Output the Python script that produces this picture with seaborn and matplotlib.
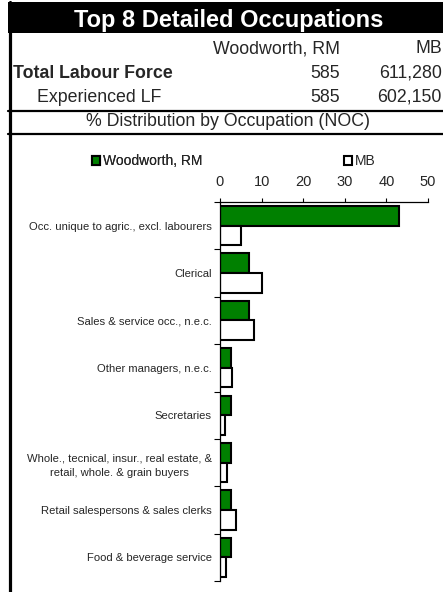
import matplotlib
matplotlib.use("Agg")
import matplotlib.pyplot as plt
import seaborn as sns
import pandas as pd
from matplotlib.patches import Rectangle
from matplotlib.lines import Line2D
from matplotlib.ticker import FixedLocator

# ---- data ----
occupations = [
    "Occ. unique to agric., excl. labourers",
    "Clerical",
    "Sales & service occ., n.e.c.",
    "Other managers, n.e.c.",
    "Secretaries",
    "Whole., tecnical, insur., real estate, &\nretail, whole. & grain buyers",
    "Retail salespersons & sales clerks",
    "Food & beverage service",
]
woodworth = [43.0, 7.0, 7.0, 2.6, 2.7, 2.7, 2.6, 2.7]
mb = [5.0, 10.2, 8.2, 2.8, 1.3, 1.6, 3.8, 1.5]
series_names = ["Woodworth, RM", "MB"]
header_cols = ["Woodworth, RM", "MB"]
row_labels = ["Total Labour Force", "Experienced LF"]
row_wood = ["585", "585"]
row_mb = ["611,280", "602,150"]
title = "Top 8 Detailed Occupations"
subtitle = "% Distribution by Occupation (NOC)"
x_ticks = [0, 10, 20, 30, 40, 50]

df = pd.DataFrame({
    "Occupation": occupations * 2,
    "Series": [series_names[0]] * len(occupations) + [series_names[1]] * len(occupations),
    "Value": woodworth + mb,
})

sns.set_theme(style="white")
plt.rcParams["font.family"] = ["Liberation Sans", "DejaVu Sans"]

W, H = 443, 592
fig = plt.figure(figsize=(W / 100, H / 100), dpi=100)

def fx(px):
    return px / W

def fy(py):
    return 1 - py / H

# ---- header ----
fig.add_artist(Rectangle((fx(8), fy(33)), fx(W) - fx(8) + 0.01, (33 - 2) / H,
                         transform=fig.transFigure, facecolor="black", edgecolor="none"))
fig.text(fx(229), fy(26.5), title, color="white", fontsize=17, fontweight="bold",
         ha="center", va="baseline")
HF = 12.8
fig.text(fx(340), fy(53.3), header_cols[0], fontsize=HF, ha="right", va="baseline")
fig.text(fx(442), fy(53.3), header_cols[1], fontsize=HF, ha="right", va="baseline")
base = [78, 101.7]
fig.text(fx(13), fy(base[0]), row_labels[0], fontsize=HF, fontweight="bold", ha="left", va="baseline")
fig.text(fx(37), fy(base[1]), row_labels[1], fontsize=HF, ha="left", va="baseline")
for i in range(2):
    fig.text(fx(340), fy(base[i]), row_wood[i], fontsize=HF, ha="right", va="baseline")
    fig.text(fx(442), fy(base[i]), row_mb[i], fontsize=HF, ha="right", va="baseline")
fig.text(fx(227.5), fy(126.5), subtitle, fontsize=HF, ha="center", va="baseline")

for yy in (110.5, 133.5):
    fig.add_artist(Line2D([fx(8), 1.0], [fy(yy), fy(yy)], transform=fig.transFigure,
                          color="black", lw=1.6))
fig.add_artist(Line2D([fx(9.5), fx(9.5)], [0, fy(2)], transform=fig.transFigure,
                      color="black", lw=2.3))

# ---- chart ----
ax = fig.add_axes([fx(220), fy(581), (428 - 220) / W, (581 - 202) / H])
sns.barplot(data=df, y="Occupation", x="Value", hue="Series", orient="h",
            hue_order=series_names, order=occupations, saturation=1,
            palette={series_names[0]: "#008000", series_names[1]: "white"},
            edgecolor="black", linewidth=1.5, width=0.83, ax=ax, legend=True)

ax.set_xlim(0, 50)
ax.set_ylim(len(occupations) - 0.5, -0.5)
ax.xaxis.tick_top()
ax.set_xticks(x_ticks)
ax.set_xticklabels([str(t) for t in x_ticks], fontsize=10.5)
ax.tick_params(axis="x", which="major", direction="out", length=3, width=0.8,
               pad=6, color="black", top=True, bottom=False)
ax.set_xlabel("")
ax.set_ylabel("")
ax.tick_params(axis="y", which="major", length=0, pad=6, labelsize=8.1)
ax.yaxis.set_minor_locator(FixedLocator([i - 0.5 for i in range(len(occupations) + 1)]))
ax.tick_params(axis="y", which="minor", direction="out", length=4, width=0.8,
               color="black", left=True)
for lab in ax.get_yticklabels():
    lab.set_multialignment("center")
    lab.set_linespacing(1.55)
for side in ("right", "bottom"):
    ax.spines[side].set_visible(False)
for side in ("top", "left"):
    ax.spines[side].set_visible(True)
    ax.spines[side].set_color("black")
    ax.spines[side].set_linewidth(0.9)
ax.grid(False)

handles, labels = ax.get_legend_handles_labels()
ax.get_legend().remove()
leg1 = fig.legend([handles[0]], [labels[0]], loc="center left",
                  bbox_to_anchor=(fx(92), fy(161)), bbox_transform=fig.transFigure,
                  frameon=False, borderpad=0, borderaxespad=0, fontsize=10,
                  handlelength=0.6, handleheight=0.6, handletextpad=0.2)
leg2 = fig.legend([handles[1]], [labels[1]], loc="center left",
                  bbox_to_anchor=(fx(344), fy(161)), bbox_transform=fig.transFigure,
                  frameon=False, borderpad=0, borderaxespad=0, fontsize=10,
                  handlelength=0.6, handleheight=0.6, handletextpad=0.2)
fig.add_artist(leg1)

fig.savefig("out.png", dpi=100)
